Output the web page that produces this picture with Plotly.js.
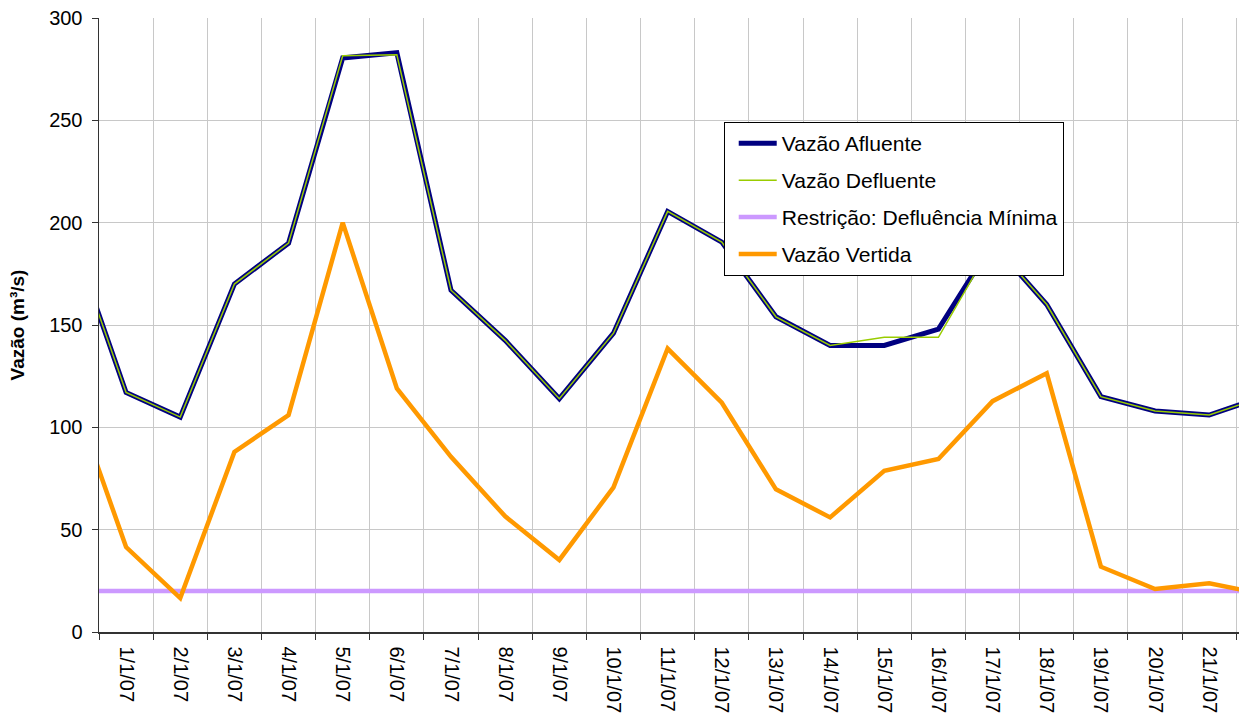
<!DOCTYPE html>
<html>
<head>
<meta charset="utf-8">
<script src="https://cdn.plot.ly/plotly-3.0.1.min.js"></script>
<style>html,body{margin:0;padding:0;background:#fff;}#chart{width:1239px;height:717px;}</style>
</head>
<body>
<div id="chart"></div>
<script>
const dias = ["31/12/06","1/1/07","2/1/07","3/1/07","4/1/07","5/1/07","6/1/07","7/1/07","8/1/07","9/1/07","10/1/07","11/1/07","12/1/07","13/1/07","14/1/07","15/1/07","16/1/07","17/1/07","18/1/07","19/1/07","20/1/07","21/1/07","22/1/07"];
const vazaoAfluente = [193, 117, 105, 170, 190, 280.5, 283, 167, 142.5, 114, 146, 205.5, 190.5, 154, 140, 140, 148, 190, 160, 115, 108, 106, 115];
const vazaoDefluente = [193, 117, 105, 170, 190, 281.5, 282, 167, 142.5, 114, 146, 205.5, 190.5, 154, 140, 144, 144, 190, 160, 115, 108, 106, 115];
const defluenciaMinima = [20, 20, 20, 20, 20, 20, 20, 20, 20, 20, 20, 20, 20, 20, 20, 20, 20, 20, 20, 20, 20, 20, 20];
const vazaoVertida = [116.5, 41.5, 16.6, 88, 106, 200, 119, 85.6, 56.5, 35.2, 70.7, 138.5, 112, 69.7, 56, 78.8, 84.5, 112.8, 126.4, 31.9, 21, 23.8, 18.5];

const FONT = "Liberation Sans, Arial, sans-serif";
const traces = [
  {x: dias, y: vazaoAfluente, name: "Vazão Afluente", mode: "lines", line: {color: "#000080", width: 5}, legendgroup: "a"},
  {x: dias, y: vazaoDefluente, name: "Vazão Defluente", mode: "lines", line: {color: "#99CC00", width: 1.5}, legendgroup: "b"},
  {x: dias, y: defluenciaMinima, name: "Restrição: Defluência Mínima", mode: "lines", line: {color: "#CC99FF", width: 4.5}, legendgroup: "c"},
  {x: dias, y: vazaoVertida, name: "Vazão Vertida", mode: "lines", line: {color: "#FF9900", width: 4.5}, legendgroup: "d"}
];

const layout = {
  width: 1239, height: 717,
  margin: {l: 99, r: 0, t: 18, b: 85},
  paper_bgcolor: "#fff", plot_bgcolor: "#fff",
  font: {family: FONT, size: 20, color: "#000"},
  showlegend: true,
  legend: {
    x: 0.548, y: 0.8306, xanchor: "left", yanchor: "top",
    bgcolor: "#fff", bordercolor: "#000", borderwidth: 1,
    font: {family: FONT, size: 21.1, color: "#000"},
    traceorder: "grouped", tracegroupgap: 6.5, itemwidth: 38, indentation: 9
  },
  xaxis: {
    type: "category", range: [0.5, 21.55], tickson: "boundaries",
    tickangle: 90, ticks: "outside", ticklen: 6, tickcolor: "#333",
    ticklabelstandoff: 9,
    showgrid: true, gridcolor: "#C8C8C8", gridwidth: 1,
    showline: true, linecolor: "#333", linewidth: 1.5,
    tickfont: {family: FONT, size: 20, color: "#000"}, zeroline: false
  },
  yaxis: {
    range: [0, 300], dtick: 50, ticks: "outside", ticklen: 6, tickcolor: "#333",
    ticklabelstandoff: 5,
    showgrid: true, gridcolor: "#C8C8C8", gridwidth: 1,
    showline: true, linecolor: "#333", linewidth: 1.5, zeroline: false,
    tickfont: {family: FONT, size: 20, color: "#000"},
    title: {text: "<b>Vazão (m³/s)</b>", font: {family: FONT, size: 19, color: "#000"}, standoff: 19}
  }
};

Plotly.newPlot("chart", traces, layout, {displayModeBar: false, staticPlot: true});
</script>
</body>
</html>
